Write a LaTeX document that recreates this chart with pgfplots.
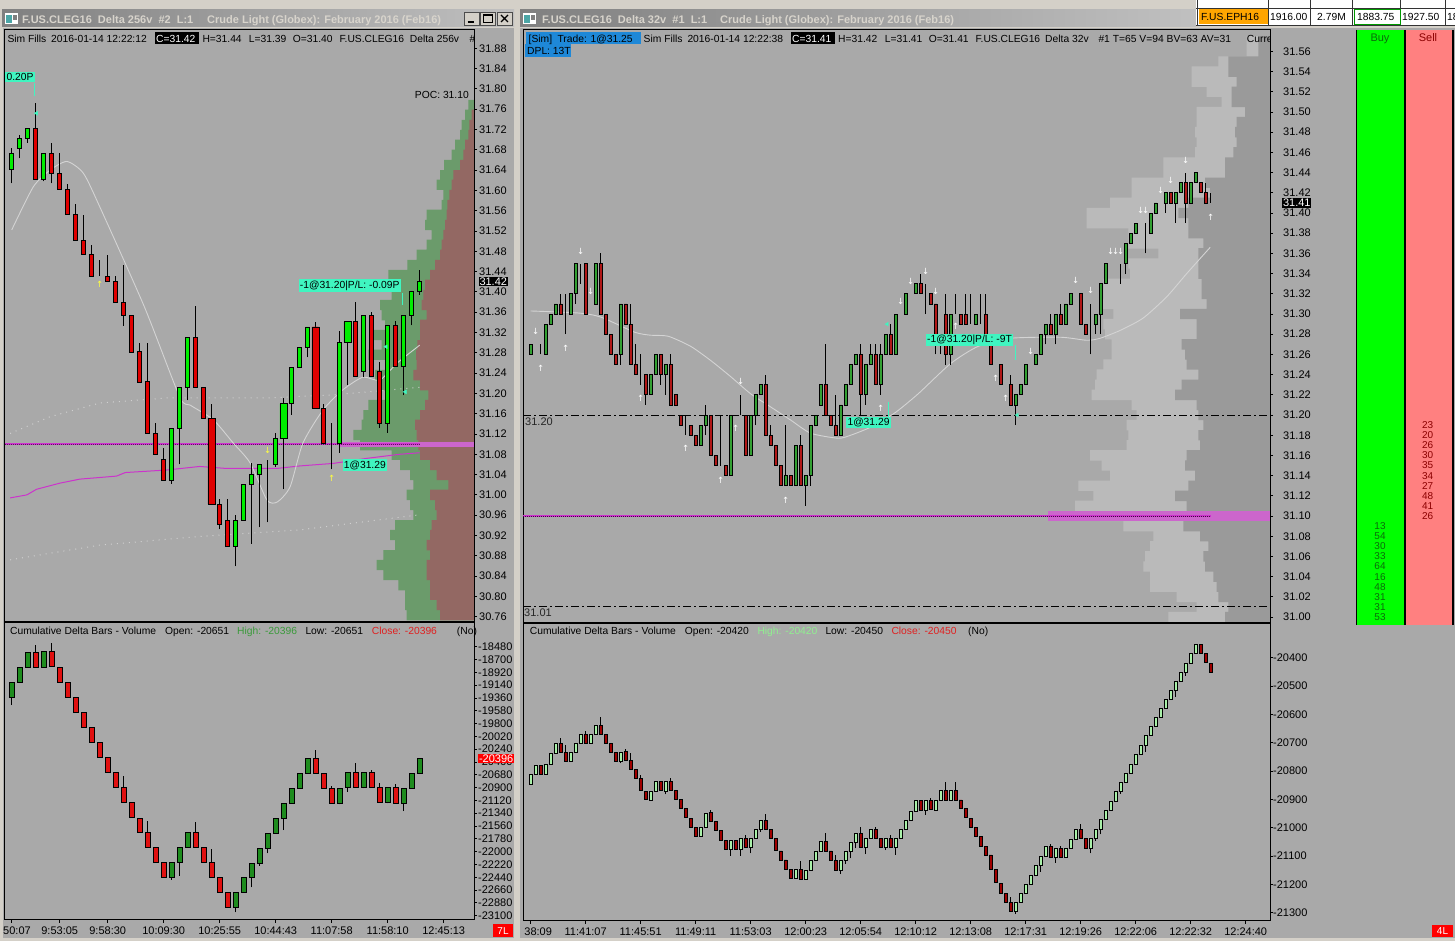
\documentclass[border=0pt]{standalone}
\usepackage{fontspec}
\setmainfont{Liberation Sans}
\newfontfamily\dejavu{DejaVu Sans}
\usepackage{pgfplots}
\usepackage{pgfplotstable}
\pgfplotsset{compat=1.18}

\definecolor{chartbg}{HTML}{A9A9A9}
\definecolor{winface}{HTML}{D4D0C8}
\definecolor{tgA}{HTML}{808080}
\definecolor{tgB}{HTML}{C0C0C0}
\definecolor{ttext}{HTML}{D8D4CC}
\definecolor{ltup}{HTML}{00EE00}
\definecolor{ltdn}{HTML}{E00000}
\definecolor{rtup}{HTML}{33A033}
\definecolor{rtdn}{HTML}{B01818}
\definecolor{lbup}{HTML}{1E8C1E}
\definecolor{lbdn}{HTML}{E01010}
\definecolor{rbup}{HTML}{A8F0A8}
\definecolor{rbdn}{HTML}{A00000}
\definecolor{profg}{HTML}{6B9B6B}
\definecolor{profb}{HTML}{936863}
\definecolor{proflt}{HTML}{BABABA}
\definecolor{profdk}{HTML}{9A9A9A}
\definecolor{magline}{HTML}{CC33CC}
\definecolor{pocband}{HTML}{CC66CC}
\definecolor{mint}{HTML}{40F5C0}
\definecolor{simblue}{HTML}{1E88D8}
\definecolor{mac}{HTML}{D4D4D4}
\definecolor{dotc}{HTML}{D0D0D0}
\definecolor{buyg}{HTML}{00FF00}
\definecolor{sellr}{HTML}{FF8080}
\definecolor{buytxt}{HTML}{0B6B0B}
\definecolor{selltxt}{HTML}{8B0000}
\definecolor{hgreen}{HTML}{3A9A3A}
\definecolor{hlgreen}{HTML}{90F090}
\definecolor{hred}{HTML}{E02020}
\definecolor{yarr}{HTML}{FFFF40}
\definecolor{tickorange}{HTML}{FFA500}

\newcommand\tickf{\fontsize{11}{12}\selectfont}
\newcommand\hf{\fontsize{10.3}{12}\selectfont}
\newcommand\tf{\fontsize{11}{12}\selectfont\bfseries}
\newcommand\numf{\fontsize{10}{10}\selectfont}
\newcommand\arrf{\dejavu\fontsize{8.5}{8.5}\selectfont}

% ---------------- data ----------------
\pgfplotstableread{
i o h l c
0 31.642 31.683 31.614 31.673
1 31.683 31.709 31.663 31.703
2 31.703 31.722 31.694 31.722
3 31.722 31.772 31.622 31.622
4 31.622 31.673 31.618 31.673
5 31.673 31.694 31.614 31.634
6 31.634 31.673 31.602 31.602
7 31.602 31.612 31.552 31.552
8 31.552 31.573 31.502 31.502
9 31.502 31.552 31.473 31.473
10 31.473 31.493 31.430 31.430
11 31.431 31.463 31.431 31.431
12 31.431 31.473 31.420 31.420
13 31.420 31.431 31.380 31.380
14 31.380 31.453 31.333 31.353
15 31.353 31.353 31.280 31.280
16 31.282 31.300 31.221 31.221
17 31.223 31.300 31.121 31.121
18 31.121 31.141 31.080 31.080
19 31.070 31.092 31.029 31.029
20 31.029 31.131 31.022 31.131
21 31.131 31.212 31.060 31.212
22 31.212 31.310 31.186 31.310
23 31.310 31.372 31.212 31.212
24 31.212 31.212 31.151 31.151
25 31.151 31.180 30.982 30.982
26 30.982 30.991 30.932 30.941
27 30.950 30.991 30.899 30.899
28 30.899 30.960 30.859 30.950
29 30.950 31.021 30.950 31.021
30 31.021 31.062 30.904 31.041
31 31.041 31.060 30.936 31.060
32 31.060 31.069 30.946 31.060
33 31.060 31.121 31.055 31.111
34 31.111 31.190 31.011 31.180
35 31.180 31.251 31.158 31.251
36 31.251 31.290 31.251 31.290
37 31.290 31.331 31.271 31.331
38 31.331 31.340 31.171 31.171
39 31.171 31.180 31.101 31.101
40 31.101 31.141 31.050 31.101
41 31.101 31.322 31.083 31.301
42 31.301 31.341 31.217 31.341
43 31.341 31.381 31.233 31.233
44 31.243 31.353 31.233 31.353
45 31.353 31.361 31.233 31.233
46 31.243 31.262 31.132 31.141
47 31.141 31.333 31.122 31.333
48 31.333 31.343 31.253 31.253
49 31.253 31.353 31.196 31.353
50 31.353 31.400 31.334 31.400
51 31.400 31.443 31.394 31.420
}\LT

\pgfplotstableread{
i o h l c
25 31.151 31.180 30.982 30.982
34 31.111 31.190 31.011 31.180
38 31.331 31.340 31.171 31.171
42 31.301 31.341 31.217 31.341
}\LTw

\pgfplotstableread{
p g b
31.768 5.7 0
31.749 9.0 2.3
31.729 12.3 4.7
31.709 14.0 5.7
31.690 19.0 9.0
31.670 22.3 10.7
31.650 30.0 14.0
31.630 34.0 20.7
31.611 37.3 22.3
31.591 30.7 24.7
31.571 32.3 26.7
31.552 47.3 27.3
31.532 49.0 29.0
31.512 42.3 30.7
31.493 47.3 32.3
31.473 57.3 34.0
31.453 66.7 39.0
31.433 85.7 44.0
31.414 94.0 49.0
31.394 82.3 50.7
31.374 94.0 52.3
31.354 92.3 47.3
31.335 89.0 54.0
31.315 102.3 54.0
31.295 92.3 56.7
31.276 105.7 58.0
31.256 89.0 57.3
31.236 99.0 60.7
31.216 94.0 54.0
31.197 89.0 45.7
31.177 105.7 49.0
31.157 110.7 54.0
31.138 112.3 59.0
31.118 120.7 57.3
31.098 114.0 55.7
31.079 82.3 54.0
31.059 74.0 44.0
31.039 64.0 37.3
31.019 60.7 25.7
31.000 67.3 44.0
30.980 64.0 39.0
30.960 60.7 37.3
30.940 79.0 42.3
30.921 84.0 44.0
30.901 79.0 47.3
30.881 90.7 44.0
30.862 97.3 47.3
30.842 90.7 47.3
30.822 75.7 44.0
30.803 69.0 44.0
30.783 69.0 37.3
30.763 67.3 34.0
}\LTprof

\pgfplotstableread{
i o h l c
0 -19350 -19093 -19482 -19093
1 -19093 -18835 -19093 -18835
2 -18835 -18577 -18835 -18577
3 -18577 -18451 -18835 -18835
4 -18835 -18566 -18835 -18566
5 -18566 -18411 -18823 -18823
6 -18835 -18835 -19093 -19093
7 -19093 -19093 -19350 -19350
8 -19350 -19350 -19608 -19608
9 -19608 -19608 -19865 -19865
10 -19865 -19865 -20123 -20123
11 -20123 -20123 -20381 -20381
12 -20381 -20381 -20638 -20638
13 -20638 -20638 -20896 -20896
14 -20896 -20701 -21153 -21153
15 -21153 -21153 -21411 -21411
16 -21423 -21423 -21669 -21669
17 -21669 -21474 -21926 -21926
18 -21926 -21926 -22184 -22184
19 -22184 -22184 -22442 -22442
20 -22442 -22184 -22487 -22184
21 -22184 -21926 -22413 -21926
22 -21926 -21669 -21926 -21669
23 -21669 -21486 -21926 -21926
24 -21926 -21926 -22184 -22184
25 -22184 -21961 -22442 -22442
26 -22442 -22442 -22699 -22699
27 -22699 -22699 -22957 -22957
28 -22957 -22699 -23043 -22699
29 -22699 -22442 -22699 -22442
30 -22442 -22201 -22613 -22201
31 -22201 -21944 -22241 -21944
32 -21944 -21686 -22030 -21686
33 -21686 -21428 -21686 -21428
34 -21428 -21171 -21629 -21171
35 -21171 -20913 -21171 -20913
36 -20913 -20655 -20913 -20655
37 -20655 -20398 -20655 -20398
38 -20398 -20255 -20655 -20655
39 -20655 -20655 -20913 -20913
40 -20913 -20873 -21171 -21171
41 -21171 -20913 -21188 -20913
42 -20896 -20638 -20970 -20638
43 -20638 -20484 -20896 -20896
44 -20896 -20638 -20913 -20638
45 -20638 -20598 -20896 -20896
46 -20896 -20827 -21153 -21153
47 -21153 -20896 -21171 -20896
48 -20896 -20839 -21171 -21171
49 -21171 -20913 -21302 -20913
50 -20913 -20655 -20913 -20655
51 -20651 -20396 -20651 -20396
}\LB

\pgfplotstableread{
j o h l c
0 31.26 31.27 31.26 31.27
1 31.27 31.27 31.27 31.27
2 31.26 31.27 31.26 31.26
3 31.26 31.29 31.26 31.29
4 31.29 31.30 31.29 31.30
5 31.30 31.31 31.30 31.31
6 31.31 31.32 31.30 31.30
7 31.30 31.32 31.28 31.30
8 31.30 31.32 31.30 31.32
9 31.32 31.35 31.31 31.35
10 31.35 31.35 31.33 31.35
11 31.35 31.35 31.30 31.30
12 31.31 31.31 31.31 31.31
13 31.31 31.35 31.31 31.35
14 31.35 31.36 31.30 31.30
15 31.30 31.30 31.28 31.28
16 31.28 31.28 31.26 31.26
17 31.26 31.26 31.25 31.25
18 31.26 31.31 31.25 31.31
19 31.31 31.31 31.29 31.29
20 31.29 31.31 31.25 31.25
21 31.25 31.27 31.24 31.24
22 31.24 31.26 31.23 31.24
23 31.24 31.24 31.21 31.22
24 31.22 31.24 31.22 31.24
25 31.24 31.26 31.24 31.26
26 31.26 31.26 31.23 31.24
27 31.24 31.25 31.22 31.25
28 31.25 31.26 31.21 31.21
29 31.22 31.22 31.21 31.21
30 31.20 31.20 31.19 31.19
31 31.19 31.20 31.18 31.19
32 31.19 31.19 31.18 31.18
33 31.18 31.18 31.17 31.17
34 31.17 31.19 31.17 31.19
35 31.19 31.21 31.18 31.20
36 31.20 31.20 31.16 31.16
37 31.16 31.16 31.15 31.15
38 31.15 31.20 31.15 31.15
39 31.15 31.15 31.14 31.14
40 31.14 31.20 31.14 31.20
41 31.20 31.20 31.20 31.20
42 31.20 31.22 31.20 31.20
43 31.20 31.20 31.16 31.16
44 31.16 31.20 31.16 31.20
45 31.20 31.22 31.19 31.22
46 31.22 31.23 31.22 31.23
47 31.23 31.24 31.18 31.18
48 31.18 31.19 31.17 31.17
49 31.17 31.17 31.15 31.15
50 31.15 31.15 31.13 31.13
51 31.13 31.19 31.13 31.14
52 31.14 31.14 31.13 31.13
53 31.13 31.17 31.13 31.17
54 31.17 31.18 31.13 31.13
55 31.13 31.14 31.11 31.14
56 31.14 31.19 31.13 31.19
57 31.19 31.20 31.19 31.20
58 31.21 31.23 31.21 31.23
59 31.23 31.27 31.20 31.20
60 31.20 31.20 31.19 31.19
61 31.19 31.22 31.18 31.18
62 31.18 31.21 31.18 31.21
63 31.21 31.23 31.21 31.23
64 31.23 31.25 31.23 31.25
65 31.25 31.26 31.25 31.26
66 31.26 31.27 31.20 31.22
67 31.22 31.25 31.21 31.25
68 31.25 31.27 31.25 31.26
69 31.26 31.27 31.23 31.23
70 31.23 31.27 31.22 31.26
71 31.26 31.28 31.26 31.28
72 31.28 31.29 31.26 31.26
73 31.26 31.30 31.26 31.30
74 31.30 31.30 31.30 31.30
75 31.30 31.32 31.30 31.32
76 31.32 31.32 31.32 31.32
77 31.32 31.33 31.32 31.33
78 31.33 31.34 31.32 31.32
79 31.32 31.33 31.30 31.32
80 31.32 31.32 31.31 31.31
81 31.31 31.31 31.26 31.28
82 31.28 31.28 31.26 31.28
83 31.30 31.32 31.25 31.26
84 31.26 31.30 31.25 31.30
85 31.30 31.32 31.30 31.30
86 31.30 31.30 31.29 31.29
87 31.30 31.32 31.29 31.29
88 31.29 31.32 31.29 31.29
89 31.29 31.30 31.29 31.30
90 31.30 31.32 31.29 31.30
91 31.30 31.32 31.27 31.27
92 31.27 31.27 31.25 31.25
93 31.25 31.25 31.25 31.25
94 31.25 31.25 31.23 31.23
95 31.23 31.23 31.23 31.23
96 31.23 31.24 31.21 31.21
97 31.21 31.22 31.19 31.22
98 31.22 31.23 31.22 31.23
99 31.23 31.25 31.23 31.25
100 31.25 31.25 31.25 31.25
101 31.25 31.26 31.25 31.26
102 31.26 31.28 31.26 31.28
103 31.28 31.29 31.27 31.29
104 31.29 31.30 31.28 31.28
105 31.28 31.30 31.27 31.30
106 31.30 31.31 31.29 31.29
107 31.29 31.31 31.29 31.31
108 31.31 31.32 31.31 31.32
109 31.32 31.32 31.32 31.32
110 31.32 31.32 31.29 31.29
111 31.29 31.29 31.28 31.28
112 31.29 31.31 31.26 31.29
113 31.29 31.30 31.28 31.30
114 31.30 31.33 31.28 31.33
115 31.33 31.35 31.33 31.35
116 31.35 31.35 31.35 31.35
117 31.35 31.35 31.35 31.35
118 31.35 31.35 31.33 31.35
119 31.35 31.37 31.34 31.37
120 31.37 31.38 31.37 31.38
121 31.38 31.39 31.38 31.39
122 31.39 31.39 31.39 31.39
123 31.39 31.39 31.36 31.39
124 31.38 31.40 31.38 31.40
125 31.40 31.41 31.40 31.41
126 31.41 31.41 31.41 31.41
127 31.41 31.42 31.40 31.42
128 31.42 31.42 31.41 31.41
129 31.41 31.42 31.39 31.42
130 31.42 31.43 31.42 31.43
131 31.43 31.44 31.39 31.41
132 31.41 31.43 31.41 31.43
133 31.43 31.44 31.43 31.44
134 31.43 31.43 31.42 31.42
135 31.42 31.43 31.41 31.41
136 31.41 31.42 31.41 31.41
}\RT

\pgfplotstableread{
p lt dk
31.57 23.3 11.7
31.56 23.3 11.7
31.55 51.7 41.7
31.54 78.3 41.7
31.53 78.3 33.3
31.52 63.3 38.3
31.51 48.3 38.3
31.50 73.3 25.0
31.49 73.3 33.3
31.48 75.0 35.0
31.47 73.3 33.3
31.46 75.0 36.7
31.45 106.7 45.0
31.44 106.7 45.0
31.43 138.3 65.0
31.42 138.3 60.0
31.41 160.0 81.7
31.40 183.3 91.7
31.39 183.3 81.7
31.38 141.7 81.7
31.37 141.7 66.7
31.36 111.7 71.7
31.35 141.7 71.7
31.34 140.0 71.7
31.33 166.7 68.3
31.32 166.7 68.3
31.31 170.0 63.3
31.30 156.7 90.0
31.29 166.7 73.3
31.28 165.0 73.3
31.27 158.3 88.3
31.26 158.3 85.0
31.25 166.7 83.3
31.24 173.3 71.7
31.23 175.0 88.3
31.22 178.3 95.0
31.21 138.3 73.3
31.20 133.3 71.7
31.19 143.3 66.7
31.18 141.7 71.7
31.17 143.3 70.0
31.16 180.0 83.3
31.15 168.3 85.0
31.14 160.0 75.0
31.13 191.7 81.7
31.12 176.7 95.0
31.11 195.0 83.3
31.10 170.0 83.3
31.09 146.7 86.7
31.08 116.7 70.0
31.07 120.0 61.7
31.06 125.0 66.7
31.05 126.7 65.0
31.04 120.0 56.7
31.03 120.0 53.3
31.02 93.3 51.7
31.01 73.3 41.7
31.00 101.7 45.0
}\RTprof

\pgfplotstableread{
j o h l c
0 -20847 -20812 -20847 -20812
1 -20812 -20780 -20812 -20780
2 -20780 -20780 -20812 -20812
3 -20812 -20776 -20812 -20776
4 -20776 -20738 -20776 -20738
5 -20738 -20702 -20738 -20702
6 -20702 -20685 -20734 -20734
7 -20734 -20708 -20767 -20767
8 -20767 -20734 -20767 -20734
9 -20734 -20702 -20734 -20702
10 -20702 -20671 -20702 -20671
11 -20671 -20659 -20702 -20702
12 -20702 -20671 -20702 -20671
13 -20671 -20639 -20671 -20639
14 -20639 -20608 -20671 -20671
15 -20671 -20671 -20702 -20702
16 -20702 -20702 -20734 -20734
17 -20734 -20734 -20767 -20767
18 -20767 -20734 -20773 -20734
19 -20731 -20722 -20762 -20762
20 -20762 -20738 -20794 -20794
21 -20794 -20794 -20826 -20826
22 -20826 -20814 -20867 -20867
23 -20871 -20871 -20900 -20900
24 -20902 -20871 -20902 -20871
25 -20871 -20838 -20871 -20838
26 -20838 -20838 -20867 -20867
27 -20871 -20838 -20882 -20838
28 -20838 -20824 -20867 -20867
29 -20867 -20867 -20900 -20900
30 -20900 -20900 -20932 -20932
31 -20932 -20932 -20964 -20964
32 -20967 -20967 -20999 -20999
33 -20999 -20999 -21032 -21032
34 -21032 -20999 -21032 -20999
35 -20999 -20950 -20999 -20950
36 -20946 -20938 -20979 -20979
37 -20979 -20979 -21011 -21011
38 -21011 -21011 -21044 -21044
39 -21044 -21044 -21076 -21076
40 -21076 -21044 -21099 -21044
41 -21044 -21044 -21076 -21076
42 -21076 -21039 -21099 -21039
43 -21039 -21026 -21071 -21071
44 -21071 -21039 -21091 -21039
45 -21039 -21006 -21039 -21006
46 -21006 -20973 -21016 -20973
47 -20973 -20953 -21006 -21006
48 -21006 -21006 -21039 -21039
49 -21039 -21039 -21079 -21079
50 -21082 -21082 -21114 -21114
51 -21114 -21114 -21147 -21147
52 -21147 -21147 -21179 -21179
53 -21179 -21147 -21179 -21147
54 -21147 -21116 -21182 -21182
55 -21182 -21149 -21182 -21149
56 -21149 -21114 -21149 -21114
57 -21114 -21082 -21114 -21082
58 -21082 -21049 -21082 -21049
59 -21049 -21018 -21082 -21082
60 -21082 -21082 -21116 -21116
61 -21116 -21096 -21149 -21149
62 -21149 -21116 -21164 -21116
63 -21116 -21085 -21128 -21085
64 -21085 -21053 -21108 -21053
65 -21053 -21020 -21073 -21020
66 -21020 -20996 -21069 -21069
67 -21069 -21038 -21093 -21038
68 -21038 -21006 -21038 -21006
69 -21006 -20996 -21038 -21038
70 -21038 -21038 -21069 -21069
71 -21069 -21038 -21079 -21038
72 -21038 -21026 -21069 -21069
73 -21069 -21038 -21096 -21038
74 -21038 -21006 -21038 -21006
75 -21006 -20973 -21006 -20973
76 -20973 -20941 -20973 -20941
77 -20941 -20905 -20941 -20905
78 -20905 -20905 -20938 -20938
79 -20938 -20905 -20955 -20905
80 -20905 -20896 -20935 -20935
81 -20938 -20905 -20938 -20905
82 -20902 -20869 -20902 -20869
83 -20869 -20840 -20902 -20902
84 -20902 -20869 -20902 -20869
85 -20869 -20840 -20902 -20902
86 -20902 -20902 -20932 -20932
87 -20932 -20932 -20964 -20964
88 -20967 -20967 -20999 -20999
89 -20999 -20999 -21032 -21032
90 -21032 -21032 -21065 -21065
91 -21067 -21067 -21096 -21096
92 -21096 -21096 -21147 -21147
93 -21147 -21147 -21193 -21193
94 -21196 -21196 -21232 -21232
95 -21232 -21232 -21265 -21265
96 -21265 -21246 -21296 -21296
97 -21296 -21265 -21305 -21265
98 -21265 -21232 -21265 -21232
99 -21232 -21200 -21232 -21200
100 -21200 -21167 -21200 -21167
101 -21167 -21134 -21167 -21134
102 -21134 -21100 -21155 -21100
103 -21100 -21067 -21100 -21067
104 -21067 -21058 -21105 -21105
105 -21105 -21072 -21124 -21072
106 -21072 -21065 -21105 -21105
107 -21105 -21072 -21105 -21072
108 -21072 -21040 -21072 -21040
109 -21040 -21006 -21040 -21006
110 -21006 -20987 -21038 -21038
111 -21038 -21038 -21072 -21072
112 -21072 -21038 -21091 -21038
113 -21038 -21006 -21046 -21006
114 -21006 -20971 -21024 -20971
115 -20971 -20940 -20971 -20940
116 -20940 -20906 -20940 -20906
117 -20906 -20873 -20906 -20873
118 -20873 -20840 -20881 -20840
119 -20840 -20808 -20840 -20808
120 -20808 -20775 -20808 -20775
121 -20775 -20741 -20775 -20741
122 -20741 -20708 -20741 -20708
123 -20708 -20675 -20732 -20675
124 -20675 -20644 -20675 -20644
125 -20644 -20611 -20644 -20611
126 -20611 -20579 -20611 -20579
127 -20579 -20547 -20579 -20547
128 -20547 -20516 -20547 -20516
129 -20516 -20485 -20538 -20485
130 -20485 -20452 -20485 -20452
131 -20452 -20420 -20464 -20420
132 -20420 -20385 -20420 -20385
133 -20385 -20353 -20385 -20353
134 -20353 -20353 -20385 -20385
135 -20385 -20385 -20416 -20416
136 -20420 -20420 -20450 -20450
}\RB

\pgfplotstableread{
x p v
70.7 31.19 23
70.7 31.18 20
70.7 31.17 26
70.7 31.16 30
70.7 31.15 35
70.7 31.14 34
70.7 31.13 27
70.7 31.12 48
70.7 31.11 41
70.7 31.10 26
}\Sell
\pgfplotstableread{
x p v
23 31.09 13
23 31.08 54
23 31.07 30
23 31.06 33
23 31.05 64
23 31.04 16
23 31.03 48
23 31.02 31
23 31.01 31
23 31.00 53
}\Buy

% ---------------- styles ----------------
\pgfplotsset{
  every axis/.append style={anchor=south west, scale only axis, enlargelimits=false, scaled ticks=false},
  LTbox/.style={at={(5pt,319pt)}, width=469pt, height=592pt, xmin=-0.8375, xmax=57.7875, ymin=30.7495, ymax=31.9161},
  LBbox/.style={at={(5pt,21pt)}, width=469pt, height=297pt, xmin=-0.8375, xmax=57.7875, ymin=-23174, ymax=-18073},
  RTbox/.style={at={(523pt,318pt)}, width=747pt, height=593pt, xmin=-1.534, xmax=147.866, ymin=30.9941, ymax=31.5812},
  RBbox/.style={at={(523pt,20pt)}, width=747pt, height=297pt, xmin=-1.534, xmax=147.866, ymin=-21329.3, ymax=-20281.1},
  vis/.style={axis line style={black, line width=1pt}, tick style={black, line width=0.8pt},
     tick align=outside, major tick length=3pt, ytick pos=right, yticklabel pos=right,
     xtick pos=bottom, xtick=\empty, ticklabel style={font=\tickf},
     /pgf/number format/assume math mode=true, /pgf/number format/1000 sep={}},
  wick/.style={draw=none, mark=none, error bars/y dir=plus, error bars/y explicit,
     error bars/error mark=none, error bars/error bar style={draw=black, solid, line width=#1}},
  cand/.style={hide axis, ybar stacked, bar width=#1},
  ov/.style={hide axis, clip=false},
  lab/.style={draw=none, mark=none, nodes near coords={#1},
     nodes near coords style={font=\hf, fill=mint, text=black, inner sep=1.3pt, anchor=center}},
  arrw/.style={draw=none, mark=none, nodes near coords={#1},
     nodes near coords style={font=\arrf, anchor=center, inner sep=0pt}},
}

\begin{document}
\begin{tikzpicture}
\useasboundingbox (0,0) rectangle (1455pt,941pt);
% ---------------- window chrome ----------------
\begin{scope}[x=1pt,y=-1pt,shift={(0pt,941pt)}]
\fill[winface] (0,0) rectangle (1455,941);
\shade[left color=tgA, right color=tgB] (2,10) rectangle (514,27);
\fill[chartbg] (3,28) rectangle (514,938);
\shade[left color=tgA, right color=tgB] (520,10) rectangle (1196,27);
\fill[chartbg] (520,28) rectangle (1455,938);
% icons
\fill[white] (5,13) rectangle (18,24); \fill[teal!70] (6,15) rectangle (12,23); \fill[gray] (13,15) rectangle (17,20);
\fill[white] (523,13) rectangle (536,24); \fill[teal!70] (524,15) rectangle (530,23); \fill[gray] (531,15) rectangle (535,20);
% window buttons
\foreach \a/\b in {464/479, 480.5/495.5, 497/512}{\fill[winface] (\a,12) rectangle (\b,25); \draw[black!70, line width=0.5pt] (\a,12) rectangle (\b,25);}
\draw[black, line width=1.6pt] (467.5,22) -- (474,22);
\draw[black, line width=0.8pt] (483.5,14.5) rectangle (492.5,22.5);
\draw[black, line width=1.6pt] (483.5,15) -- (492.5,15);
\draw[black, line width=1.3pt] (501,15) -- (508,22) (508,15) -- (501,22);
% ticker table
\fill[white] (1196,0) rectangle (1455,25);
\fill[tickorange] (1199,9) rectangle (1268,24);
\draw[black!80, line width=0.7pt] (1196,8) -- (1455,8) (1196,25) -- (1455,25);
\foreach \a in {1197.5,1268.5,1310.5,1352.5,1400.5,1445.5}{\draw[black!80, line width=0.7pt] (\a,0) -- (\a,25);}
\draw[green!60!black, line width=0.8pt] (1354,9.5) rectangle (1400,24);
\node[anchor=base west, inner sep=0, font=\hf] at (1201,21) {F.US.EPH16};
\node[anchor=base west, inner sep=0, font=\hf] at (1270,21) {1916.00};
\node[anchor=base west, inner sep=0, font=\hf] at (1317,21) {2.79M};
\node[anchor=base west, inner sep=0, font=\hf] at (1357,21) {1883.75};
\node[anchor=base west, inner sep=0, font=\hf] at (1402,21) {1927.50};
\node[anchor=base west, inner sep=0, font=\hf] at (1447,21) {18};
% title texts
\node[anchor=base west, inner sep=0, font=\tf, text=ttext] at (22,23.5) {F.US.CLEG16\ \ Delta 256v\ \ \#2\ \ L:1};
\node[anchor=base west, inner sep=0, font=\tf, text=ttext] at (207,23.5) {Crude Light (Globex): February 2016 (Feb16)};
\node[anchor=base west, inner sep=0, font=\tf, text=ttext] at (542,23.5) {F.US.CLEG16\ \ Delta 32v\ \ \#1\ \ L:1};
\node[anchor=base west, inner sep=0, font=\tf, text=ttext] at (720,23.5) {Crude Light (Globex): February 2016 (Feb16)};
% buy / sell columns
\fill[buyg] (1357,30) rectangle (1405,625);
\fill[sellr] (1405,30) rectangle (1453,625);
\draw[black, line width=1.5pt] (1356.5,30) -- (1356.5,625) (1405,30) -- (1405,625) (1453,30) -- (1453,625);
\node[anchor=base, inner sep=0, font=\tickf, text=buytxt] at (1380,42) {Buy};
\node[anchor=base, inner sep=0, font=\tickf, text=selltxt] at (1428,42) {Sell};
% corner boxes
\fill[red] (493,924) rectangle (513,937);
\node[anchor=base, inner sep=0, font=\numf, text=white] at (503,935) {7L};
\fill[red] (1432,925) rectangle (1453,937);
\node[anchor=base, inner sep=0, font=\numf, text=white] at (1442.5,935) {4L};
\end{scope}

% ================= LEFT TOP =================
\begin{axis}[LTbox, hide axis, x dir=reverse, xmin=0, xmax=469]
\addplot[xbar, bar shift=0pt, bar width=10.3pt, fill=profg, draw=none] table[x=g, y=p] {\LTprof};
\addplot[xbar, bar shift=0pt, bar width=10.3pt, fill=profb, draw=none] table[x=b, y=p] {\LTprof};
\end{axis}

\begin{axis}[LTbox, vis,
  ytick={30.76,30.80,30.84,30.88,30.92,30.96,31.00,31.04,31.08,31.12,31.16,31.20,31.24,31.28,31.32,31.36,31.40,31.44,31.48,31.52,31.56,31.60,31.64,31.68,31.72,31.76,31.80,31.84,31.88},
  yticklabel style={inner sep=0pt, xshift=2pt, /pgf/number format/fixed, /pgf/number format/fixed zerofill, /pgf/number format/precision=2}]
\addplot[dotc, line width=1pt, dash pattern=on 1pt off 5pt] coordinates {(-0.2,31.121) (4.8,31.154) (11,31.181) (19.4,31.191) (31.9,31.191) (40.2,31.197) (51,31.212)};
\addplot[dotc, line width=1pt, dash pattern=on 1pt off 5pt] coordinates {(-0.2,30.872) (11,30.901) (23.5,30.918) (36,30.931) (50.6,30.960)};
\addplot[magline, line width=1pt] coordinates {(-0.2,30.994) (1.9,31.000) (3.1,31.011) (6,31.023) (8.5,31.031) (13.1,31.037) (14.2,31.044) (19.4,31.049) (23.5,31.056) (26.9,31.052) (33.1,31.052) (36,31.057) (40.2,31.062) (44.4,31.072) (48.5,31.080) (51,31.083)};
\addplot[pocband, line width=5pt] coordinates {(41.04,31.10) (57.7875,31.10)};
\addplot[magline, line width=2pt] coordinates {(-0.8375,31.10) (51.04,31.10)};
\addplot[black!55!magline, line width=0.7pt, dash pattern=on 0.8pt off 1.2pt] coordinates {(-0.8375,31.10) (51.04,31.10)};
\addplot[mac, line width=0.9pt, smooth, tension=0.4] coordinates {(0,31.522) (2.7,31.607) (4.8,31.640) (6.9,31.657) (8.95,31.634) (11,31.568) (16.6,31.370) (21,31.193) (22.3,31.177) (25.2,31.148) (27.7,31.102) (29.8,31.063) (31.9,30.990) (33.2,30.986) (34.8,31.016) (36.4,31.102) (38.9,31.167) (41.4,31.207) (43.9,31.232) (46,31.226) (48.2,31.260) (51,31.295)};
\addplot[wick=1pt] table[x=i, y=l, y error expr=\thisrow{h}-\thisrow{l}] {\LT};
\end{axis}

\begin{axis}[LTbox, cand=4pt, ymin=0.0495, ymax=1.2161]
\addplot[draw=none, fill=none] table[x=i, y expr={min(\thisrow{o},\thisrow{c})-30.7}] {\LT};
\addplot[fill=ltup, draw=black, line width=0.8pt] table[x=i, y expr={max(\thisrow{c}-\thisrow{o},0)}] {\LT};
\addplot[fill=ltdn, draw=black, line width=0.8pt] table[x=i, y expr={max(\thisrow{o}-\thisrow{c},0)}] {\LT};
\end{axis}

\begin{axis}[LTbox, cand=7.5pt, ymin=0.0495, ymax=1.2161]
\addplot[draw=none, fill=none] table[x=i, y expr={min(\thisrow{o},\thisrow{c})-30.7}] {\LTw};
\addplot[fill=ltup, draw=black, line width=0.8pt] table[x=i, y expr={max(\thisrow{c}-\thisrow{o},0)}] {\LTw};
\addplot[fill=ltdn, draw=black, line width=0.8pt] table[x=i, y expr={max(\thisrow{o}-\thisrow{c},0)}] {\LTw};
\end{axis}

\begin{axis}[LTbox, ov]
\addplot[arrw={↑}, nodes near coords style={text=yarr}] coordinates {(11,31.414) (40,31.033)};
\addplot[arrw={↓}, nodes near coords style={text=yarr}] coordinates {(32,31.088)};
\addplot[only marks, mark=triangle*, mark size=2.2pt, color=mint, mark options={rotate=90}] coordinates {(3.1,31.752) (46.8,31.292) (49.2,31.203)};
\addplot[mint, line width=1pt] coordinates {(2.875,31.811) (2.875,31.786)};
\addplot[mint, line width=1pt] coordinates {(48.79,31.398) (48.79,31.374)};
\addplot[lab={0.20P}] coordinates {(1.04,31.8234)};
\addplot[lab={-1@31.20|P/L: -0.09P}] coordinates {(42.25,31.4126)};
\addplot[lab={1@31.29}] coordinates {(44.14,31.0589)};
\addplot[draw=none, mark=none, nodes near coords={POC: 31.10}, nodes near coords style={font=\hf, anchor=east, inner sep=0pt, text=black}] coordinates {(57.16,31.789)};
\addplot[draw=none, mark=none, nodes near coords={31.42}, nodes near coords style={font=\tickf, anchor=west, xshift=4.5pt, fill=black, text=white, inner sep=0.8pt}] coordinates {(57.7875,31.42)};
\end{axis}

% ================= LEFT BOTTOM =================
\begin{axis}[LBbox, vis,
  ytick={-18480,-18700,-18920,-19140,-19360,-19580,-19800,-20020,-20240,-20460,-20680,-20900,-21120,-21340,-21560,-21780,-22000,-22220,-22440,-22660,-22880,-23100},
  yticklabel style={inner sep=0pt, xshift=1pt, /pgf/number format/fixed, /pgf/number format/precision=0},
  xtick={0,6,12,19,26,33,40,47,54},
  xticklabels={,9:53:05,9:58:30,10:09:30,10:25:55,10:44:43,11:07:58,11:58:10,12:45:13},
  extra x ticks={0.66}, extra x tick labels={50:07}, extra x tick style={tick style={draw=none}},
  xticklabel style={inner sep=1pt, yshift=-3pt}]
\addplot[wick=1pt] table[x=i, y=l, y error expr=\thisrow{h}-\thisrow{l}] {\LB};
\end{axis}

\begin{axis}[LBbox, cand=5pt, ymin=26, ymax=5127]
\addplot[draw=none, fill=none] table[x=i, y expr={min(\thisrow{o},\thisrow{c})+23200}] {\LB};
\addplot[fill=lbup, draw=black, line width=0.8pt] table[x=i, y expr={max(\thisrow{c}-\thisrow{o},0)}] {\LB};
\addplot[fill=lbdn, draw=black, line width=0.8pt] table[x=i, y expr={max(\thisrow{o}-\thisrow{c},0)}] {\LB};
\end{axis}

\begin{axis}[LBbox, ov]
\addplot[draw=none, mark=none, nodes near coords={-20396}, nodes near coords style={font=\tickf, anchor=west, xshift=4pt, fill=red, text=white, inner sep=0.8pt}] coordinates {(57.7875,-20396)};
\end{axis}

% ================= RIGHT TOP =================
\begin{axis}[RTbox, hide axis, x dir=reverse, xmin=0, xmax=747]
\addplot[xbar, bar shift=0pt, bar width=10.4pt, fill=proflt, draw=none] table[x=lt, y=p] {\RTprof};
\addplot[xbar, bar shift=0pt, bar width=10.4pt, fill=profdk, draw=none] table[x=dk, y=p] {\RTprof};
\end{axis}

\begin{axis}[RTbox, vis,
  ytick={31.00,31.02,31.04,31.06,31.08,31.10,31.12,31.14,31.16,31.18,31.20,31.22,31.24,31.26,31.28,31.30,31.32,31.34,31.36,31.38,31.40,31.42,31.44,31.46,31.48,31.50,31.52,31.54,31.56},
  yticklabel style={inner sep=0pt, xshift=10pt, /pgf/number format/fixed, /pgf/number format/fixed zerofill, /pgf/number format/precision=2}]
\addplot[black, line width=0.9pt, dash pattern=on 8pt off 3pt on 2pt off 3pt] coordinates {(-1.534,31.20) (147.866,31.20)};
\addplot[black, line width=0.9pt, dash pattern=on 8pt off 3pt on 2pt off 3pt] coordinates {(-1.534,31.01) (147.866,31.01)};
\addplot[pocband, line width=10pt] coordinates {(103.5,31.10) (147.866,31.10)};
\addplot[magline, line width=1.2pt] coordinates {(-1.534,31.10) (136,31.10)};
\addplot[black!70!magline, line width=0.6pt, dash pattern=on 0.8pt off 1.2pt] coordinates {(-1.534,31.10) (136,31.10)};
\addplot[mac, line width=0.9pt, smooth, tension=0.4] coordinates {(0,31.303) (9.5,31.301) (14,31.297) (20.8,31.282) (24,31.279) (27.5,31.278) (32,31.268) (36,31.254) (40,31.238) (44,31.221) (48,31.208) (52,31.195) (56,31.182) (61.5,31.177) (64,31.180) (68,31.188) (72.8,31.202) (77.5,31.221) (84,31.251) (89.5,31.268) (96,31.276) (106,31.277) (111.2,31.274) (113.9,31.276) (118,31.284) (122.5,31.296) (127.2,31.317) (131.2,31.340) (135.9,31.366)};
\addplot[draw=none, mark=none, nodes near coords={31.20}, nodes near coords style={font=\tickf, anchor=west, inner sep=0pt, text=black!85}] coordinates {(-1.13,31.1934)};
\addplot[draw=none, mark=none, nodes near coords={31.01}, nodes near coords style={font=\tickf, anchor=west, inner sep=0pt, text=black!85}] coordinates {(-1.33,31.004)};
\addplot[wick=0.9pt] table[x=j, y=l, y error expr=\thisrow{h}-\thisrow{l}] {\RT};
\end{axis}

\begin{axis}[RTbox, cand=3pt, ymin=-0.0059, ymax=0.5812]
\addplot[draw=none, fill=none] table[x=j, y expr={min(\thisrow{o},\thisrow{c})-31}] {\RT};
\addplot[fill=rtup, draw=black, line width=0.7pt] table[x=j, y expr={max(\thisrow{c}-\thisrow{o},0)}] {\RT};
\addplot[fill=rtdn, draw=black, line width=0.7pt] table[x=j, y expr={max(\thisrow{o}-\thisrow{c},0)}] {\RT};
\end{axis}

\begin{axis}[RTbox, ov]
\addplot[arrw={↓}, nodes near coords style={text=white}] coordinates {(10,31.3617) (12,31.3228) (1,31.283) (42,31.233) (76,31.3327) (79,31.342) (74,31.312) (81,31.3228) (109,31.3337) (112,31.3238) (116,31.3617) (117,31.3617) (118,31.3617) (122,31.403) (123,31.403) (126,31.4228) (128,31.4327) (131,31.4525) (100,31.2627)};
\addplot[arrw={↑}, nodes near coords style={text=white}] coordinates {(7,31.266) (2,31.246) (22,31.2165) (31,31.167) (38,31.1356) (41,31.187) (51,31.1158) (70,31.2066) (85,31.2874) (136,31.396) (93,31.2363) (95,31.2165)};
\addplot[only marks, mark=triangle*, mark size=2pt, color=mint, mark options={rotate=90}] coordinates {(97.3,31.20) (71.3,31.29)};
\addplot[mint, line width=1pt] coordinates {(71.6,31.2132) (71.6,31.1983)};
\addplot[mint, line width=1pt] coordinates {(96.87,31.2693) (96.87,31.2545)};
\addplot[lab={1@31.29}] coordinates {(67.57,31.1926)};
\addplot[lab={-1@31.20|P/L: -9T}] coordinates {(87.77,31.2746)};
\addplot[draw=none, mark=none, nodes near coords={31.41}, nodes near coords style={font=\tickf, anchor=west, xshift=12pt, fill=black, text=white, inner sep=0.8pt}] coordinates {(147.866,31.41)};
\end{axis}

% ================= RIGHT BOTTOM =================
\begin{axis}[RBbox, vis,
  ytick={-20400,-20500,-20600,-20700,-20800,-20900,-21000,-21100,-21200,-21300},
  yticklabel style={inner sep=0pt, xshift=0pt, /pgf/number format/fixed, /pgf/number format/precision=0},
  xtick={0,11,22,33,44,55,66,77,88,99,110,121,132,143},
  xticklabels={,11:41:07,11:45:51,11:49:11,11:53:03,12:00:23,12:05:54,12:10:12,12:13:08,12:17:31,12:19:26,12:22:06,12:22:32,12:24:40},
  extra x ticks={1.5}, extra x tick labels={38:09}, extra x tick style={tick style={draw=none}},
  xticklabel style={inner sep=1pt, yshift=-3pt}]
\addplot[wick=0.8pt] table[x=j, y=l, y error expr=\thisrow{h}-\thisrow{l}] {\RB};
\end{axis}

\begin{axis}[RBbox, cand=3pt, ymin=70.7, ymax=1118.9]
\addplot[draw=none, fill=none] table[x=j, y expr={min(\thisrow{o},\thisrow{c})+21400}] {\RB};
\addplot[fill=rbup, draw=black, line width=0.7pt] table[x=j, y expr={max(\thisrow{c}-\thisrow{o},0)}] {\RB};
\addplot[fill=rbdn, draw=black, line width=0.7pt] table[x=j, y expr={max(\thisrow{o}-\thisrow{c},0)}] {\RB};
\end{axis}

% ================= BUY / SELL LADDER =================
\begin{axis}[at={(1357pt,318pt)}, width=96pt, height=593pt, xmin=0, xmax=96, ymin=30.9941, ymax=31.5812, hide axis, clip=false]
\addplot[draw=none, mark=none, nodes near coords, point meta=explicit symbolic, nodes near coords style={font=\numf, text=selltxt, anchor=center, inner sep=0pt}] table[x=x, y=p, meta=v] {\Sell};
\addplot[draw=none, mark=none, nodes near coords, point meta=explicit symbolic, nodes near coords style={font=\numf, text=buytxt, anchor=center, inner sep=0pt}] table[x=x, y=p, meta=v] {\Buy};
\end{axis}

% ---------------- panel headers ----------------
\begin{scope}[x=1pt,y=-1pt,shift={(0pt,941pt)}]
\begin{scope}
\clip (5,29) rectangle (474,50);
\fill[black] (155,32) rectangle (199,44.5);
\foreach \xx/\tt in {7.3/{Sim Fills}, 51/{2016-01-14 12:22:12}, 202.3/{H=31.44}, 248.7/{L=31.39}, 292.7/{O=31.40}, 339.3/{F.US.CLEG16}, 409.7/{Delta 256v}, 469.5/{\#}}
  {\node[anchor=base west, inner sep=0, font=\hf] at (\xx,42.5) {\tt};}
\node[anchor=base west, inner sep=0, font=\hf, text=white] at (156,42.5) {C=31.42};
\end{scope}
\begin{scope}
\clip (523,29) rectangle (1270,60);
\fill[simblue] (526,31.7) rectangle (641,44.5);
\fill[simblue] (525.3,44.5) rectangle (571.3,56.7);
\fill[black] (791,32) rectangle (834.7,44.5);
\foreach \xx/\tt in {528.5/{[Sim]}, 557.3/{Trade: 1@31.25}, 643.5/{Sim Fills}, 687.3/{2016-01-14 12:22:38}, 838/{H=31.42}, 884.7/{L=31.41}, 928.7/{O=31.41}, 975.3/{F.US.CLEG16}, 1045/{Delta 32v}, 1098.3/{\#1 T=65 V=94 BV=63 AV=31}, 1246.7/{Curre}}
  {\node[anchor=base west, inner sep=0, font=\hf] at (\xx,42.5) {\tt};}
\node[anchor=base west, inner sep=0, font=\hf, text=white] at (792,42.5) {C=31.41};
\node[anchor=base west, inner sep=0, font=\hf] at (527,55) {DPL: 13T};
\end{scope}
% bottom panel headers
\node[anchor=base west, inner sep=0, font=\hf] at (10,635) {Cumulative Delta Bars - Volume};
\node[anchor=base west, inner sep=0, font=\hf] at (165,635) {Open: -20651};
\node[anchor=base west, inner sep=0, font=\hf, text=hgreen] at (237,635) {High: -20396};
\node[anchor=base west, inner sep=0, font=\hf] at (305.3,635) {Low: -20651};
\node[anchor=base west, inner sep=0, font=\hf, text=hred] at (371.7,635) {Close: -20396};
\node[anchor=base west, inner sep=0, font=\hf] at (456.7,635) {(No)};
\node[anchor=base west, inner sep=0, font=\hf] at (529.7,635) {Cumulative Delta Bars - Volume};
\node[anchor=base west, inner sep=0, font=\hf] at (684.7,635) {Open: -20420};
\node[anchor=base west, inner sep=0, font=\hf, text=hlgreen] at (757.3,635) {High: -20420};
\node[anchor=base west, inner sep=0, font=\hf] at (825.3,635) {Low: -20450};
\node[anchor=base west, inner sep=0, font=\hf, text=hred] at (891.3,635) {Close: -20450};
\node[anchor=base west, inner sep=0, font=\hf] at (968,635) {(No)};
\end{scope}
\end{tikzpicture}
\end{document}
